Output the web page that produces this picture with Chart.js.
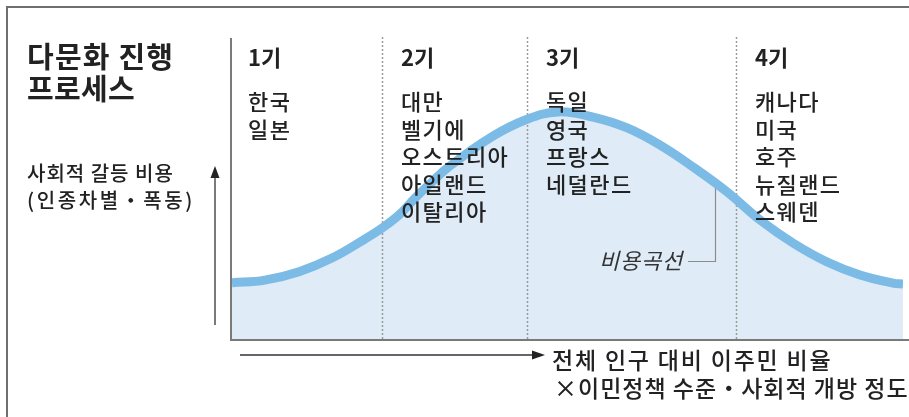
<!DOCTYPE html>
<html>
<head>
<meta charset="utf-8">
<script src="https://cdn.jsdelivr.net/npm/chart.js@4"></script>
<style>
  body { margin: 0; background: #fff; }
  #chart { display: block; }
</style>
</head>
<body>
<canvas id="chart" width="909" height="417"></canvas>
<script>
// cost curve, x = share of immigrants (0-100), y = social conflict cost (0-100)
const costX = [0, 4.9, 10.0, 14.9, 19.8, 22.4, 24.9, 27.3, 29.8, 32.3, 38.7, 43.7, 48.6, 53.8, 58.9, 63.8, 68.7, 73.8, 78.7, 83.6, 88.7, 93.6, 98.5, 100];
const costY = [18.6, 19.5, 22.3, 26.8, 33.1, 36.8, 41.1, 46.7, 52.0, 57.0, 66.9, 72.5, 75.2, 73.5, 69.9, 64.2, 57.0, 48.7, 39.4, 31.8, 25.5, 21.2, 18.5, 18.2];

// stage boundaries on the x axis and their labels
const stageStarts = [0, 22.35, 43.96, 75.1];
const stageLabels = ['1기', '2기', '3기', '4기'];
const stageCountries = [
  ['한국', '일본'],
  ['대만', '벨기에', '오스트리아', '아일랜드', '이탈리아'],
  ['독일', '영국', '프랑스', '네덜란드'],
  ['캐나다', '미국', '호주', '뉴질랜드', '스웨덴']
];

const titleLines = ['다문화 진행', '프로세스'];
const yAxisLines = ['사회적 갈등 비용', '(인종차별・폭동)'];
const xAxisLines = ['전체 인구 대비 이주민 비율', '×이민정책 수준・사회적 개방 정도'];
const curveName = '비용곡선';

const FONT = '"Noto Sans CJK KR", "Noto Sans", sans-serif';

function arrowHead(ctx, x, y, dir) {
  ctx.beginPath();
  if (dir === 'up') {
    ctx.moveTo(x, y);
    ctx.lineTo(x - 4.5, y + 12);
    ctx.lineTo(x + 4.5, y + 12);
  } else {
    ctx.moveTo(x, y);
    ctx.lineTo(x - 13, y - 4.5);
    ctx.lineTo(x - 13, y + 4.5);
  }
  ctx.closePath();
  ctx.fill();
}

function text(ctx, str, x, y, font, spacing) {
  ctx.font = font;
  ctx.letterSpacing = (spacing || 0) + 'px';
  ctx.fillText(str, x, y);
  ctx.letterSpacing = '0px';
}

const decorPlugin = {
  id: 'decor',
  beforeDatasetsDraw(chart) {
    const ctx = chart.ctx;
    const area = chart.chartArea;
    const xs = chart.scales.x;
    ctx.save();
    // dotted stage dividers
    ctx.strokeStyle = '#9a9a9a';
    ctx.lineWidth = 1.5;
    ctx.setLineDash([2, 2]);
    stageStarts.slice(1).forEach(v => {
      const px = Math.round(xs.getPixelForValue(v)) + 0.5;
      ctx.beginPath();
      ctx.moveTo(px, area.top);
      ctx.lineTo(px, area.bottom);
      ctx.stroke();
    });
    ctx.setLineDash([]);
    // leader for curve name
    ctx.strokeStyle = '#8c8c8c';
    ctx.lineWidth = 1.2;
    ctx.beginPath();
    ctx.moveTo(688, 261.5);
    ctx.lineTo(715.5, 261.5);
    ctx.lineTo(715.5, 185);
    ctx.stroke();
    ctx.restore();
  },
  afterDraw(chart) {
    const ctx = chart.ctx;
    const area = chart.chartArea;
    const xs = chart.scales.x;
    ctx.save();

    // outer frame (top + left)
    ctx.strokeStyle = '#6f6f6f';
    ctx.lineWidth = 2;
    ctx.beginPath();
    ctx.moveTo(7, 417);
    ctx.lineTo(7, 7);
    ctx.lineTo(909, 7);
    ctx.stroke();

    // plot box: left and bottom
    ctx.strokeStyle = '#7a7a7a';
    ctx.beginPath();
    ctx.moveTo(area.left - 1, area.top + 1);
    ctx.lineTo(area.left - 1, area.bottom + 1);
    ctx.lineTo(909, area.bottom + 1);
    ctx.stroke();

    // axis arrows
    ctx.strokeStyle = '#333';
    ctx.fillStyle = '#222';
    ctx.lineWidth = 1.3;
    ctx.beginPath();
    ctx.moveTo(215, 325);
    ctx.lineTo(215, 175);
    ctx.stroke();
    arrowHead(ctx, 215, 166, 'up');
    ctx.beginPath();
    ctx.moveTo(240, 355);
    ctx.lineTo(534, 355);
    ctx.stroke();
    arrowHead(ctx, 545, 355, 'right');

    ctx.fillStyle = '#222';
    ctx.textBaseline = 'middle';
    ctx.textAlign = 'left';

    // title
    text(ctx, titleLines[0], 27, 57, 'bold 29px ' + FONT, 1.2);
    text(ctx, titleLines[1], 27, 89, 'bold 29px ' + FONT, 0.3);

    // y axis label
    text(ctx, yAxisLines[0], 27, 173, '500 20px ' + FONT, 1);
    text(ctx, yAxisLines[1], 27, 200, '500 20px ' + FONT, 2.6);

    // x axis label
    text(ctx, xAxisLines[0], 552, 360, '500 23px ' + FONT, 1.8);
    text(ctx, xAxisLines[1], 554, 388, '500 23px ' + FONT, 1);

    // stage headings and countries
    stageStarts.forEach((v, i) => {
      const px = xs.getPixelForValue(v) + (i === 0 ? 16 : 19);
      text(ctx, stageLabels[i], px, 58, 'bold 22px ' + FONT, 0);
      stageCountries[i].forEach((c, j) => {
        text(ctx, c, px, 102 + j * 27.5, '500 22px ' + FONT, 1.4);
      });
    });

    // curve name
    ctx.fillStyle = '#333';
    text(ctx, curveName, 599, 261, 'italic 22px ' + FONT, 0.8);

    ctx.restore();
  }
};

new Chart(document.getElementById('chart'), {
  type: 'line',
  data: {
    datasets: [{
      data: costX.map((x, i) => ({ x: x, y: costY[i] })),
      borderColor: '#7bbbe6',
      borderWidth: 9,
      backgroundColor: '#dfebf7',
      fill: 'origin',
      pointRadius: 0,
      tension: 0.4,
      clip: 0
    }]
  },
  options: {
    responsive: false,
    animation: false,
    devicePixelRatio: 1,
    layout: { padding: { left: 232, top: 37, right: 6, bottom: 78 } },
    scales: {
      x: { type: 'linear', min: 0, max: 100, display: false },
      y: { min: 0, max: 100, display: false }
    },
    plugins: {
      legend: { display: false },
      tooltip: { enabled: false },
      filler: { drawTime: 'beforeDraw' }
    }
  },
  plugins: [decorPlugin]
});
</script>
</body>
</html>
